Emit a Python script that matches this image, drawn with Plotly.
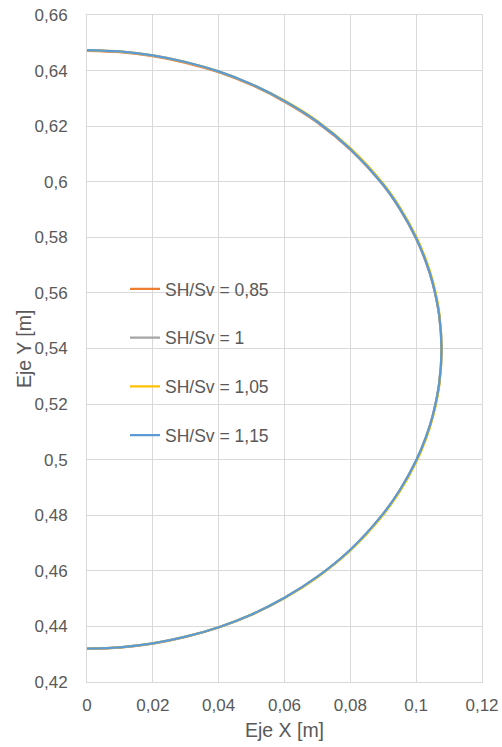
import plotly.graph_objects as go

# Contour points (x, y) for each stress ratio, upper branch then lower branch
x_pts = [0, 0.01, 0.02, 0.03, 0.04, 0.05, 0.06, 0.07, 0.08, 0.09, 0.095, 0.1, 0.103, 0.105, 0.107, 0.1077,
         0.107, 0.105, 0.103, 0.1, 0.095, 0.09, 0.08, 0.07, 0.06, 0.05, 0.04, 0.03, 0.02, 0.01, 0]

y_085 = [0.6471, 0.6466, 0.6452, 0.6428, 0.6394, 0.6348, 0.6288, 0.6213, 0.6115, 0.5987, 0.5902, 0.5795, 0.5710, 0.5635, 0.5518, 0.5396,
         0.5274, 0.5156, 0.5081, 0.4996, 0.4889, 0.4805, 0.4675, 0.4578, 0.4502, 0.4442, 0.4396, 0.4362, 0.4338, 0.4324, 0.4319]
y_100 = [0.6473, 0.6468, 0.6454, 0.6430, 0.6396, 0.6350, 0.6290, 0.6215, 0.6117, 0.5988, 0.5903, 0.5796, 0.5711, 0.5636, 0.5519, 0.5397,
         0.5275, 0.5157, 0.5082, 0.4997, 0.4890, 0.4806, 0.4676, 0.4579, 0.4503, 0.4443, 0.4397, 0.4363, 0.4339, 0.4325, 0.4320]
y_105 = [0.6474, 0.6469, 0.6455, 0.6431, 0.6397, 0.6351, 0.6292, 0.6218, 0.6121, 0.5993, 0.5909, 0.5803, 0.5719, 0.5645, 0.5530, 0.5397,
         0.5265, 0.5150, 0.5075, 0.4991, 0.4885, 0.4802, 0.4673, 0.4577, 0.4502, 0.4443, 0.4397, 0.4363, 0.4339, 0.4325, 0.4320]
y_115 = [0.6474, 0.6469, 0.6455, 0.6431, 0.6397, 0.6351, 0.6291, 0.6216, 0.6118, 0.5989, 0.5904, 0.5797, 0.5712, 0.5637, 0.5520, 0.5397,
         0.5275, 0.5157, 0.5082, 0.4997, 0.4890, 0.4806, 0.4676, 0.4579, 0.4503, 0.4443, 0.4397, 0.4363, 0.4339, 0.4325, 0.4320]

series_names = ["SH/Sv = 0,85", "SH/Sv = 1", "SH/Sv = 1,05", "SH/Sv = 1,15"]
series_y = [y_085, y_100, y_105, y_115]
series_colors = ["#ED7D31", "#A5A5A5", "#FFC000", "#5B9BD5"]

x_tickvals = [0, 0.02, 0.04, 0.06, 0.08, 0.1, 0.12]
x_ticktext = ["0", "0,02", "0,04", "0,06", "0,08", "0,1", "0,12"]
y_tickvals = [0.42, 0.44, 0.46, 0.48, 0.5, 0.52, 0.54, 0.56, 0.58, 0.6, 0.62, 0.64, 0.66]
y_ticktext = ["0,42", "0,44", "0,46", "0,48", "0,5", "0,52", "0,54", "0,56", "0,58", "0,6", "0,62", "0,64", "0,66"]

FONT = "Liberation Sans, Arial, sans-serif"
GRID = "#d9d9d9"
TEXT = "#595959"

# plot area in pixels
L, R, T, B = 87, 20, 15, 65
W, H = 502, 747
PW, PH = W - L - R, H - T - B

fig = go.Figure()
for i, (name, ys, col) in enumerate(zip(series_names, series_y, series_colors)):
    fig.add_trace(go.Scatter(
        x=x_pts, y=ys, name=name, mode="lines",
        line=dict(color=col, width=2.25, shape="spline", smoothing=0.8),
        legendgroup=f"g{i}",
    ))

# vertical axis title placed as a rotated annotation
fig.add_annotation(
    text="Eje Y [m]", textangle=-90, showarrow=False,
    xref="paper", yref="paper",
    x=(24 - L) / PW, y=(H - B - 349) / PH, xanchor="center", yanchor="middle",
    font=dict(family=FONT, size=19.5, color=TEXT),
)

fig.update_layout(
    width=W, height=H,
    margin=dict(l=L, r=R, t=T, b=B),
    paper_bgcolor="white", plot_bgcolor="white",
    font=dict(family=FONT, size=17, color=TEXT),
    showlegend=True,
    legend=dict(
        x=(125 - L) / PW, y=(H - B - 271) / PH, xanchor="left", yanchor="top",
        bgcolor="rgba(0,0,0,0)", borderwidth=0,
        font=dict(family=FONT, size=17.5, color=TEXT),
        tracegroupgap=23, itemwidth=30,
    ),
    xaxis=dict(
        range=[0, 0.12], tickvals=x_tickvals, ticktext=x_ticktext,
        showgrid=True, gridcolor=GRID, gridwidth=1,
        showline=True, linecolor=GRID, linewidth=1, mirror=True,
        zeroline=False, ticks="", ticklabelstandoff=8, automargin=False,
        title=dict(text="Eje X [m]", font=dict(size=19.5, color=TEXT), standoff=8),
        tickfont=dict(size=17, color=TEXT),
    ),
    yaxis=dict(
        range=[0.42, 0.66], tickvals=y_tickvals, ticktext=y_ticktext,
        showgrid=True, gridcolor=GRID, gridwidth=1,
        showline=True, linecolor=GRID, linewidth=1, mirror=True,
        zeroline=False, ticks="", ticklabelstandoff=15, automargin=False,
        tickfont=dict(size=17, color=TEXT),
    ),
)

fig.write_html("out.html")
